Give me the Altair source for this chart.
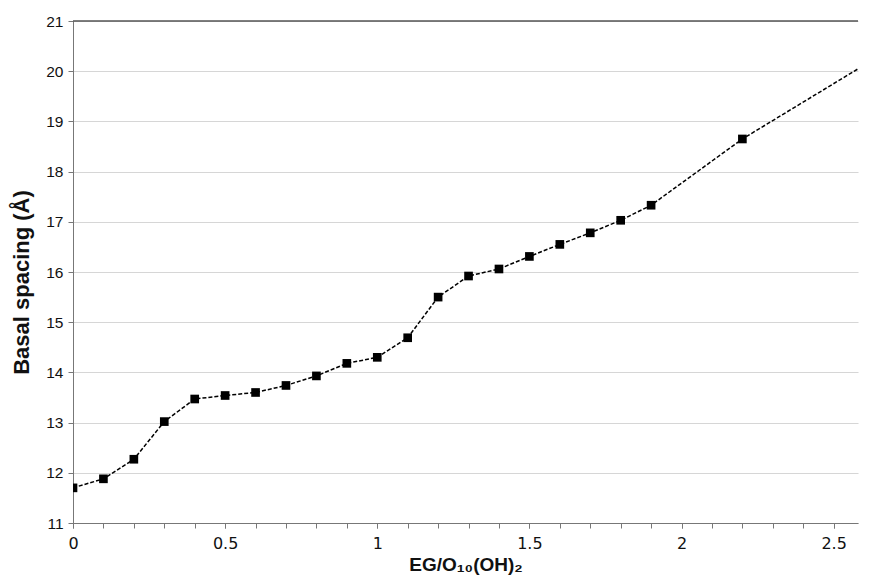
import altair as alt
import pandas as pd

ratio = [0.0, 0.1, 0.2, 0.3, 0.4, 0.5, 0.6, 0.7, 0.8, 0.9, 1.0,
         1.1, 1.2, 1.3, 1.4, 1.5, 1.6, 1.7, 1.8, 1.9, 2.2, 2.6]
spacing = [11.70, 11.88, 12.27, 13.02, 13.47, 13.54, 13.60, 13.74, 13.93, 14.18, 14.30,
           14.69, 15.50, 15.92, 16.06, 16.31, 16.55, 16.78, 17.03, 17.33, 18.65, 20.12]
x_major = [0, 0.5, 1, 1.5, 2, 2.5]
x_minor = [round(i * 0.1, 1) for i in range(26)]
y_ticks = list(range(11, 22))

df = pd.DataFrame({"ratio": ratio, "spacing": spacing})

FONT = "Liberation Sans"

x_main = alt.X("ratio:Q",
               scale=alt.Scale(domain=[0, 2.58], nice=False, zero=False),
               axis=alt.Axis(values=x_major, grid=False, orient="bottom", format="~g",
                             title="EG/O₁₀(OH)₂", titleFontSize=19, titleFontWeight="bold",
                             titleColor="#111", titlePadding=4, titleFont=FONT,
                             labelFontSize=16, labelColor="#111", labelPadding=7, labelFont="DejaVu Sans",
                             tickSize=5, tickColor="#777", domainColor="#777", labelFlush=False))
x_minor_enc = alt.X("ratio:Q",
                    axis=alt.Axis(values=x_minor, grid=False, orient="bottom", labels=False,
                                  title=None, domain=False, tickSize=5, tickColor="#777"))
y_enc = alt.Y("spacing:Q",
              scale=alt.Scale(domain=[11, 21], nice=False, zero=False),
              axis=alt.Axis(values=y_ticks, grid=True, gridColor="#d6d6d6", gridWidth=1.2,
                            title="Basal spacing (Å)", titleFontSize=22, titleFontWeight="bold",
                            titleColor="#111", titlePadding=12, titleFont=FONT, titleY=261,
                            labelFontSize=15.5, labelColor="#111", labelPadding=5, labelFont=FONT,
                            tickSize=5, tickColor="#777", domainColor="#777"))

line = alt.Chart(df).mark_line(color="black", strokeDash=[4, 2], strokeWidth=1.5, clip=True).encode(
    x=x_main, y=y_enc)
pts = alt.Chart(df).mark_point(shape="square", filled=True, color="black", size=75, opacity=1, clip=True).encode(
    x=x_minor_enc, y="spacing:Q")
top = alt.Chart(pd.DataFrame({"v": [21]})).mark_rule(color="#555", strokeWidth=1.5).encode(
    y=alt.Y("v:Q"))

chart = alt.layer(line, pts, top).resolve_axis(x="independent").properties(
    width=785, height=502,
    autosize=alt.AutoSizeParams(type="none"),
    padding={"left": 65, "top": 13, "right": 4, "bottom": 55}
).configure_view(stroke=None)

chart.save("out.html", embed_options={"renderer": "svg", "actions": False})
